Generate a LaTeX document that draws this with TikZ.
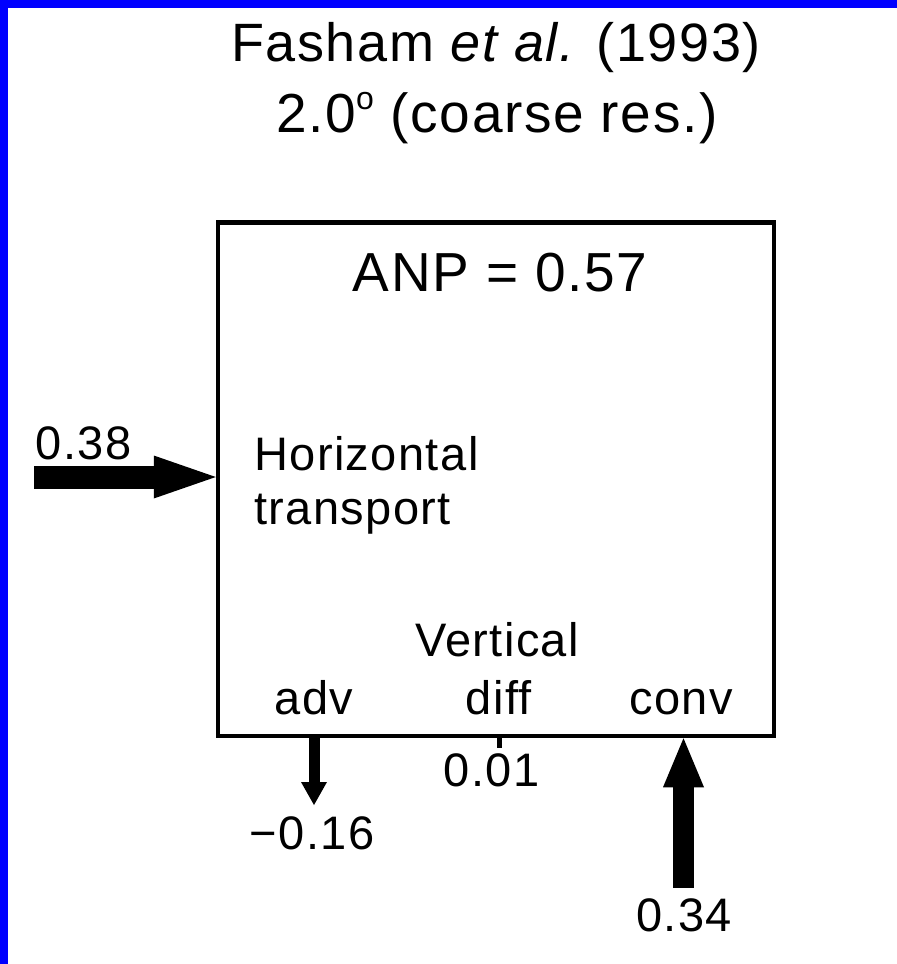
\documentclass[tikz,border=0pt]{standalone}
\usepackage{fontspec}
\setmainfont{Liberation Sans}[LetterSpace=3]
\usetikzlibrary{arrows.meta}

\begin{document}
\begin{tikzpicture}[x=1pt,y=-1pt,line width=4.5pt]
\tikzset{lbl/.style={inner sep=0pt,anchor=base,font=\fontsize{47}{54}\selectfont},
  big/.style={lbl,font=\fontsize{55}{71}\selectfont},
  flux/.style n args={3}{line width=#1,-{Triangle[length=#2,width=#3,line width=0pt]}}}
\useasboundingbox (0,0) rectangle (897,964);
% ---- frame ----
\fill[blue] (0,0) rectangle (897,964);
\fill[white] (8,8) rectangle (897,964);
% ---- heading ----
\node[big,font=\fontsize{54}{71}\selectfont] (ttl) at (496,61) {Fasham {\itshape et al.} (1993)};
\node[big] (res) at (497,132) {2.0\raisebox{23pt}{\fontsize{32}{32}\selectfont o} (coarse res.)};
% ---- the box ----
\node[draw,minimum width=556pt,minimum height=513.5pt] (box) at (496,479.25) {};
\node[big] (anp) at (500,291) {ANP = 0.57};
\node[lbl,anchor=north west,align=left] (horz) at (252,434) {Horizontal\\transport};
\node[lbl] (vert) at (497,656) {Vertical};
\node[lbl] (adv) at (314,714) {adv};
\node[lbl] (diff) at (499,714) {diff};
\node[lbl] (conv) at (681,714) {conv};
% ---- fluxes ----
\coordinate (hin) at (34,477);
\coordinate (advout) at (314,805);
\coordinate (difout) at (499,748);
\coordinate (convin) at (683.5,887.5);
\draw[flux={23pt}{62pt}{43pt}] (hin) -- (hin -| box.west);
\draw[flux={11pt}{23pt}{26pt}] (advout |- box.south) -- (advout);
\draw[line width=5pt] (difout |- box.south) -- (difout);
\draw[flux={21pt}{49pt}{41pt}] (convin) -- (convin |- box.south);
\node[lbl] (vh) at (83.5,459) {0.38};
\node[lbl] (vadv) at (312,849) {−0.16};
\node[lbl] (vdif) at (491.5,786) {0.01};
\node[lbl] (vconv) at (684,931.5) {0.34};
\end{tikzpicture}
\end{document}
